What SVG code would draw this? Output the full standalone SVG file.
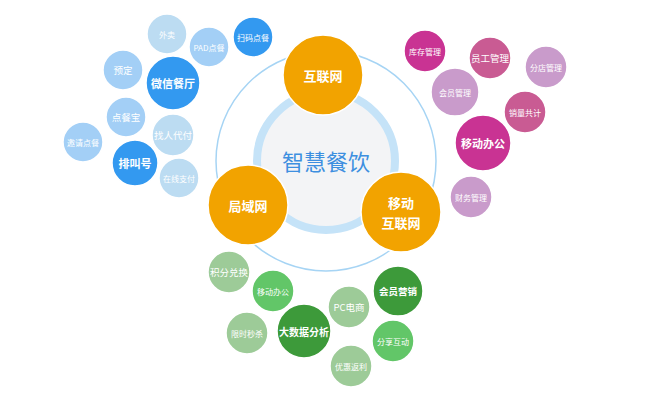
<svg xmlns="http://www.w3.org/2000/svg" width="652" height="400" viewBox="0 0 652 400">
<style>
text{font-family:"Noto Sans CJK SC","Noto Sans",sans-serif;fill:#fff;text-anchor:middle;dominant-baseline:central}
circle.n{stroke:#fff;stroke-width:1.5}
.s{font-size:8px}
.m{font-size:9.5px}
.l{font-size:11px;font-weight:bold}
.o{font-size:13px;font-weight:bold}
.b1{fill:#3399f0}.b2{fill:#a3cff6}.b3{fill:#bcdcf2}
.p1{fill:#c93393}.p2{fill:#c95b93}.p3{fill:#c99bcb}
.g1{fill:#3d9a3a}.g2{fill:#62c668}.g3{fill:#9dcb98}
.or{fill:#f2a300}
</style>
<rect width="652" height="400" fill="#fff"/>
<g id="connectors">
<circle cx="326" cy="161" r="110" fill="none" stroke="#a6d4f4" stroke-width="1.5"/>
</g>
<g id="center">
<circle cx="326" cy="161" r="69" fill="#f3f4f6" stroke="#c5e3f8" stroke-width="8"/>
<text x="326" y="160" style="font-size:22px;fill:#3d8fe0">智慧餐饮</text>
</g>
<g id="hulianwang"><circle cx="323" cy="75" r="40" class="or n"/><text x="323" y="75" class="o">互联网</text></g>
<g id="juyuwang"><circle cx="248" cy="205" r="40" class="or n"/><text x="248" y="205" class="o">局域网</text></g>
<g id="yidonghulianwang"><circle cx="401" cy="212" r="40" class="or n"/><text x="401" y="202" class="o">移动</text><text x="401" y="222" class="o">互联网</text></g>

<g id="waimai"><circle cx="167" cy="34" r="20" class="b3 n"/><text x="167" y="34" class="s">外卖</text></g>
<g id="pad"><circle cx="209" cy="47" r="20" class="b2 n"/><text x="209" y="47" class="s">PAD点餐</text></g>
<g id="saoma"><circle cx="253" cy="37" r="20" class="b1 n"/><text x="253" y="37" class="s">扫码点餐</text></g>
<g id="yuding"><circle cx="123" cy="70" r="20" class="b2 n"/><text x="123" y="70" class="m">预定</text></g>
<g id="weixin"><circle cx="173" cy="83" r="27" class="b1 n"/><text x="173" y="83" class="l">微信餐厅</text></g>
<g id="diancanbao"><circle cx="126" cy="117" r="20" class="b2 n"/><text x="126" y="117" class="m">点餐宝</text></g>
<g id="zhaoren"><circle cx="173" cy="135" r="21" class="b3 n"/><text x="173" y="135" class="m">找人代付</text></g>
<g id="yaoqing"><circle cx="83" cy="142" r="20" class="b2 n"/><text x="83" y="142" class="s">邀请点餐</text></g>
<g id="paijiao"><circle cx="135" cy="163" r="23" class="b1 n"/><text x="135" y="163" class="l">排叫号</text></g>
<g id="zaixian"><circle cx="179" cy="178" r="20" class="b3 n"/><text x="179" y="178" class="s">在线支付</text></g>

<g id="kucun"><circle cx="425" cy="51" r="21" class="p1 n"/><text x="425" y="51" class="s">库存管理</text></g>
<g id="yuangong"><circle cx="490" cy="58" r="21" class="p2 n"/><text x="490" y="58" class="m">员工管理</text></g>
<g id="fendian"><circle cx="546" cy="67" r="21" class="p3 n"/><text x="546" y="67" class="s">分店管理</text></g>
<g id="huiyuan"><circle cx="455" cy="92" r="24" class="p3 n"/><text x="455" y="92" class="s">会员管理</text></g>
<g id="xiaoliang"><circle cx="525" cy="112" r="21" class="p2 n"/><text x="525" y="112" class="s">销量共计</text></g>
<g id="yidongbangong1"><circle cx="483" cy="143" r="28" class="p1 n"/><text x="483" y="143" class="l">移动办公</text></g>
<g id="caiwu"><circle cx="471" cy="197" r="21" class="p3 n"/><text x="471" y="197" class="s">财务管理</text></g>

<g id="jifen"><circle cx="229" cy="272" r="21" class="g3 n"/><text x="229" y="272" class="m">积分兑换</text></g>
<g id="yidongbangong2"><circle cx="273" cy="291" r="21" class="g2 n"/><text x="273" y="291" class="s">移动办公</text></g>
<g id="xianshi"><circle cx="247" cy="333" r="21" class="g3 n"/><text x="247" y="333" class="s">限时秒杀</text></g>
<g id="dashuju"><circle cx="304" cy="331" r="27" class="g1 n"/><text x="304" y="331" style="font-size:10px;font-weight:bold">大数据分析</text></g>
<g id="pc"><circle cx="349" cy="307" r="21" class="g3 n"/><text x="349" y="307" class="m">PC电商</text></g>
<g id="huiyuanyingxiao"><circle cx="398" cy="291" r="25" class="g1 n"/><text x="398" y="291" class="m" style="font-weight:bold">会员营销</text></g>
<g id="fenxiang"><circle cx="393" cy="341" r="21" class="g2 n"/><text x="393" y="341" class="s">分享互动</text></g>
<g id="youhui"><circle cx="351" cy="366" r="21" class="g3 n"/><text x="351" y="366" class="s">优惠返利</text></g>
</svg>
